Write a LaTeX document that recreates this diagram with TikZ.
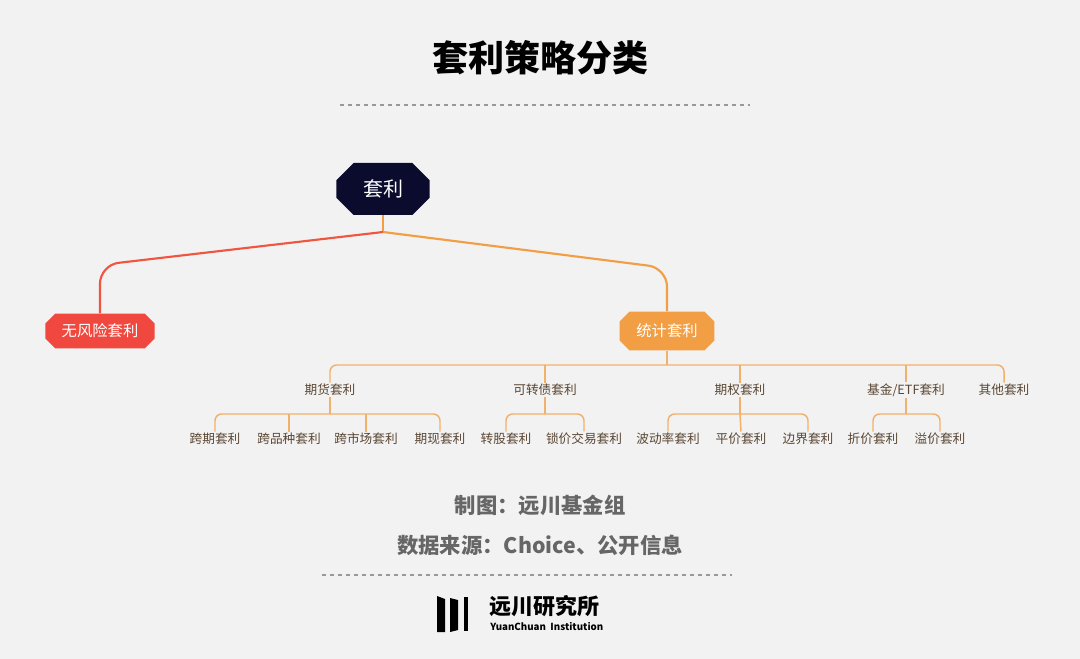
\documentclass[tikz,border=0pt]{standalone}
\usepackage{fontspec}
\setmainfont{Noto Sans CJK SC}
\usetikzlibrary{shapes.misc}
\definecolor{bg}{HTML}{F2F2F2}
\definecolor{navy}{HTML}{0B0B2E}
\definecolor{rd}{HTML}{F0483E}
\definecolor{org}{HTML}{F19E45}
\definecolor{lor}{HTML}{F3B06A}
\definecolor{txt}{HTML}{5A4632}
\definecolor{gtx}{HTML}{666666}
\tikzset{
  hexa/.style={chamfered rectangle, chamfered rectangle xsep=9pt, chamfered rectangle ysep=2pt, draw=none, text=white, inner ysep=0pt, inner xsep=6pt},
  cat/.style={font=\fontsize{9.5pt}{11pt}\selectfont, text=txt, inner sep=1pt},
  leaf/.style={font=\fontsize{9.5pt}{11pt}\selectfont, text=txt, inner sep=1pt},
  br/.style={draw=lor, line width=1.1pt, rounded corners=5pt},
  dsh/.style={draw=gray!80, dashed, line width=0.8pt},
}
\begin{document}
\begin{tikzpicture}[x=0.75pt,y=-0.75pt]
\fill[bg] (0,0) rectangle (1080,659);
\useasboundingbox (0,0) rectangle (1080,659);
\node[font=\fontsize{27pt}{30pt}\selectfont\bfseries] (title) at (540,58) {套利策略分类};
\draw[dsh] (340,105) -- (750,105);

\node[hexa, fill=navy, minimum width=70pt, minimum height=39pt, chamfered rectangle ysep=6pt, chamfered rectangle xsep=7pt, font=\fontsize{15pt}{17pt}\selectfont] (root) at (383,189) {套利};
\node[hexa, fill=rd, minimum width=82pt, minimum height=26pt, chamfered rectangle xsep=6pt, font=\fontsize{11.5pt}{13pt}\selectfont] (L) at (100,331) {无风险套利};
\node[hexa, fill=org, minimum width=71pt, minimum height=29pt, chamfered rectangle xsep=7pt, font=\fontsize{11.5pt}{13pt}\selectfont] (R) at (667,331) {统计套利};

\coordinate (j) at (383,232);
\draw[org, line width=1.6pt] (root.south) -- (j);
\draw[rd!85!org, line width=1.6pt, rounded corners=14pt] (j) -- (100,265) -- (L.north);
\draw[org, line width=1.6pt, rounded corners=14pt] (j) -- (667,268) -- (R.north);

% level 2
\node[cat] (c1) at (330,390) {期货套利};
\node[cat] (c2) at (545,390) {可转债套利};
\node[cat] (c3) at (740,390) {期权套利};
\node[cat] (c4) at (906,390) {基金/ETF套利};
\node[cat] (c5) at (1004,390) {其他套利};
\draw[br] (R.south) -- (667,365);
\draw[br] (c1.north) -- (330,365) -- (1004,365) -- (c5.north);
\foreach \c/\x in {c2/545,c3/740,c4/906} \draw[br] (\x,365) -- (\c.north);

% leaves
\node[leaf] (a1) at (215,439) {跨期套利};
\node[leaf] (a2) at (289,439) {跨品种套利};
\node[leaf] (a3) at (366,439) {跨市场套利};
\node[leaf] (a4) at (440,439) {期现套利};
\node[leaf] (b1) at (506,439) {转股套利};
\node[leaf] (b2) at (584,439) {锁价交易套利};
\node[leaf] (d1) at (668,439) {波动率套利};
\node[leaf] (d2) at (741,439) {平价套利};
\node[leaf] (d3) at (808,439) {边界套利};
\node[leaf] (e1) at (873,439) {折价套利};
\node[leaf] (e2) at (940,439) {溢价套利};

\draw[br] (c1.south) -- (330,414);
\draw[br] (a1.north) -- (215,414) -- (440,414) -- (a4.north);
\draw[br] (289,414) -- (a2.north);
\draw[br] (366,414) -- (a3.north);
\draw[br] (c2.south) -- (545,414);
\draw[br] (b1.north) -- (506,414) -- (584,414) -- (b2.north);
\draw[br] (c3.south) -- (740,414);
\draw[br] (d1.north) -- (668,414) -- (808,414) -- (d3.north);
\draw[br] (740,414) -- (d2.north);
\draw[br] (c4.south) -- (906,414);
\draw[br] (e1.north) -- (873,414) -- (940,414) -- (e2.north);

% footer
\node[font=\fontsize{16pt}{18pt}\selectfont\bfseries, text=gtx] (f1) at (540,505) {制图：远川基金组};
\node[font=\fontsize{16pt}{18pt}\selectfont\bfseries, text=gtx] (f2) at (540,545) {数据来源：Choice、公开信息};
\draw[dsh] (322,575) -- (732,575);

\fill[black] (437,596) -- (445,599) -- (445,632) -- (437,632) -- cycle;
\fill[black] (450,598) -- (458,600) -- (458,630) -- (450,632) -- cycle;
\fill[black] (464,597) -- (468,597) -- (468,631) -- (464,631) -- cycle;
\node[font=\fontsize{16.5pt}{18pt}\selectfont\bfseries, anchor=west, inner sep=0pt] (lg) at (489,606) {远川研究所};
\node[font=\fontsize{7.3pt}{8pt}\selectfont\bfseries, anchor=west, inner sep=0pt] (lg2) at (490,627) {YuanChuan\ \ Institution};
\end{tikzpicture}
\end{document}
